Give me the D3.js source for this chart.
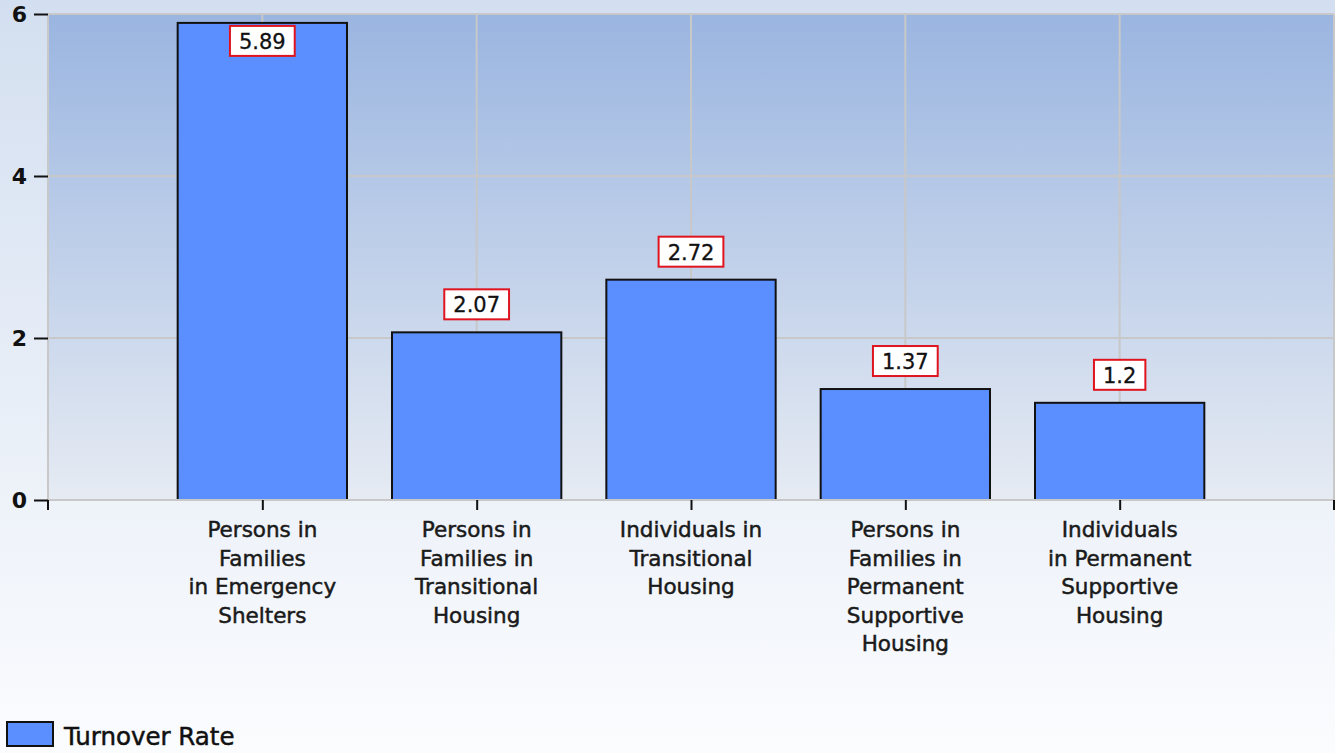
<!DOCTYPE html>
<html>
<head>
<meta charset="utf-8">
<script src="https://cdn.jsdelivr.net/npm/d3@7"></script>
<style>
  body { margin: 0; background: #fff; }
  svg { display: block; }
</style>
</head>
<body>
<div id="chart-area"></div>
<script>
// Data
var categories = [
  "Persons in\nFamilies\nin Emergency\nShelters",
  "Persons in\nFamilies in\nTransitional\nHousing",
  "Individuals in\nTransitional\nHousing",
  "Persons in\nFamilies in\nPermanent\nSupportive\nHousing",
  "Individuals\nin Permanent\nSupportive\nHousing"
];
var turnoverRate = [5.89, 2.07, 2.72, 1.37, 1.2];
var valueLabels = ["5.89", "2.07", "2.72", "1.37", "1.2"];
var yTicks = [0, 2, 4, 6];
var seriesName = "Turnover Rate";

var W = 1335, H = 753;
var margin = { left: 48, right: 1, top: 14, bottom: 253 };
var width = W - margin.left - margin.right;
var height = H - margin.top - margin.bottom;
var FONT = "DejaVu Sans, Verdana, sans-serif";

var svg = d3.select("#chart-area")
  .append("svg")
    .attr("width", W)
    .attr("height", H);

var defs = svg.append("defs");
var bgGrad = defs.append("linearGradient")
  .attr("id", "bg").attr("x1", 0).attr("y1", 0).attr("x2", 0).attr("y2", 1);
bgGrad.append("stop").attr("offset", "0%").attr("stop-color", "#d3dff0");
bgGrad.append("stop").attr("offset", "100%").attr("stop-color", "#fbfcfe");

var plotGrad = defs.append("linearGradient")
  .attr("id", "plotbg").attr("x1", 0).attr("y1", 0).attr("x2", 0).attr("y2", 1);
plotGrad.append("stop").attr("offset", "0%").attr("stop-color", "#9ab5e0");
plotGrad.append("stop").attr("offset", "100%").attr("stop-color", "#e6ebf3");

svg.append("rect")
  .attr("width", W).attr("height", H)
  .attr("fill", "url(#bg)");

var g = svg.append("g")
  .attr("transform", "translate(" + margin.left + ", " + margin.top + ")");

// Scales
var x = d3.scalePoint()
  .domain(categories)
  .range([0, width])
  .padding(1);

var barWidth = x.step() * 0.79;

var y = d3.scaleLinear()
  .domain([0, 6])
  .range([height, 0]);

// Plot background
g.append("rect")
  .attr("width", width).attr("height", height)
  .attr("fill", "url(#plotbg)");

// Grid lines
g.selectAll(".hgrid")
  .data(yTicks)
  .enter().append("line")
    .attr("x1", 0).attr("x2", width)
    .attr("y1", d => y(d)).attr("y2", d => y(d))
    .attr("stroke", "#c8c8c8").attr("stroke-width", 2);

g.selectAll(".vgrid")
  .data(categories)
  .enter().append("line")
    .attr("x1", d => x(d)).attr("x2", d => x(d))
    .attr("y1", 0).attr("y2", height)
    .attr("stroke", "#c8c8c8").attr("stroke-width", 2);

// frame lines left/right
g.append("line")
  .attr("x1", 0).attr("x2", 0).attr("y1", 0).attr("y2", height)
  .attr("stroke", "#c8c8c8").attr("stroke-width", 2);
g.append("line")
  .attr("x1", width).attr("x2", width).attr("y1", 0).attr("y2", height)
  .attr("stroke", "#c8c8c8").attr("stroke-width", 2);

// Bars
g.selectAll(".bar")
  .data(turnoverRate)
  .enter().append("rect")
    .attr("x", (d, i) => x(categories[i]) - barWidth / 2)
    .attr("y", d => y(d))
    .attr("width", barWidth)
    .attr("height", d => height - y(d))
    .attr("fill", "#5b8fff")
    .attr("stroke", "#111")
    .attr("stroke-width", 2);

// Value labels
var lab = g.selectAll(".vlab")
  .data(turnoverRate)
  .enter().append("g")
    .attr("transform", (d, i) => {
      var top = y(d) - 43;
      if (top < 0) top = y(d) + 3;
      return "translate(" + x(categories[i]) + "," + top + ")";
    });

lab.append("text")
  .attr("y", 23)
  .attr("text-anchor", "middle")
  .attr("font-family", FONT)
  .attr("font-size", "21px")
  .attr("fill", "#111")
  .attr("stroke", "#111").attr("stroke-width", 0.3)
  .text((d, i) => valueLabels[i]);

lab.each(function () {
  var t = d3.select(this).select("text");
  var bb = t.node().getBBox();
  d3.select(this).insert("rect", "text")
    .attr("x", bb.x - 9).attr("y", 0)
    .attr("width", bb.width + 18).attr("height", 30)
    .attr("fill", "#fff")
    .attr("stroke", "#e0141e").attr("stroke-width", 2);
});

// Y axis
var yAxisGroup = g.append("g")
  .call(d3.axisLeft(y).tickValues(yTicks).tickSize(14).tickPadding(7).tickFormat(d3.format("d")));
yAxisGroup.select(".domain").remove();
yAxisGroup.selectAll(".tick line").attr("stroke", "#111").attr("stroke-width", 2);
yAxisGroup.selectAll(".tick text")
  .style("font-family", FONT)
  .style("font-size", "22px")
  .style("font-weight", "bold")
  .attr("fill", "#111");

// X axis ticks
var xAxisGroup = g.append("g")
  .attr("transform", "translate(0, " + height + ")")
  .call(d3.axisBottom(x).tickSize(10).tickFormat(""));
xAxisGroup.select(".domain").attr("stroke", "#c8c8c8").attr("stroke-width", 2)
  .attr("d", "M0,0H" + width);
xAxisGroup.selectAll(".tick line").attr("stroke", "#111").attr("stroke-width", 2);
[0, width].forEach(function (px) {
  xAxisGroup.append("line")
    .attr("x1", px).attr("x2", px).attr("y1", 0).attr("y2", 10)
    .attr("stroke", "#111").attr("stroke-width", 2);
});

// Category labels
var catText = g.selectAll(".cat")
  .data(categories)
  .enter().append("text")
    .attr("x", d => x(d))
    .attr("y", height + 37)
    .attr("text-anchor", "middle")
    .attr("font-family", FONT)
    .attr("font-size", "21.5px")
    .attr("fill", "#1a1a1a")
    .attr("stroke", "#1a1a1a").attr("stroke-width", 0.5);

catText.selectAll("tspan")
  .data(d => d.split("\n"))
  .enter().append("tspan")
    .attr("x", function () { return d3.select(this.parentNode).attr("x"); })
    .attr("dy", (d, i) => i === 0 ? 0 : 28.5)
    .text(d => d);

// Legend
var legend = svg.append("g").attr("transform", "translate(7, 722)");
legend.append("rect")
  .attr("width", 46).attr("height", 24)
  .attr("fill", "#5b8fff")
  .attr("stroke", "#111").attr("stroke-width", 2);
legend.append("text")
  .attr("x", 57).attr("y", 23)
  .attr("font-family", FONT)
  .attr("font-size", "24.5px")
  .attr("fill", "#111")
  .attr("stroke", "#111").attr("stroke-width", 0.5)
  .text(seriesName);
</script>
</body>
</html>
